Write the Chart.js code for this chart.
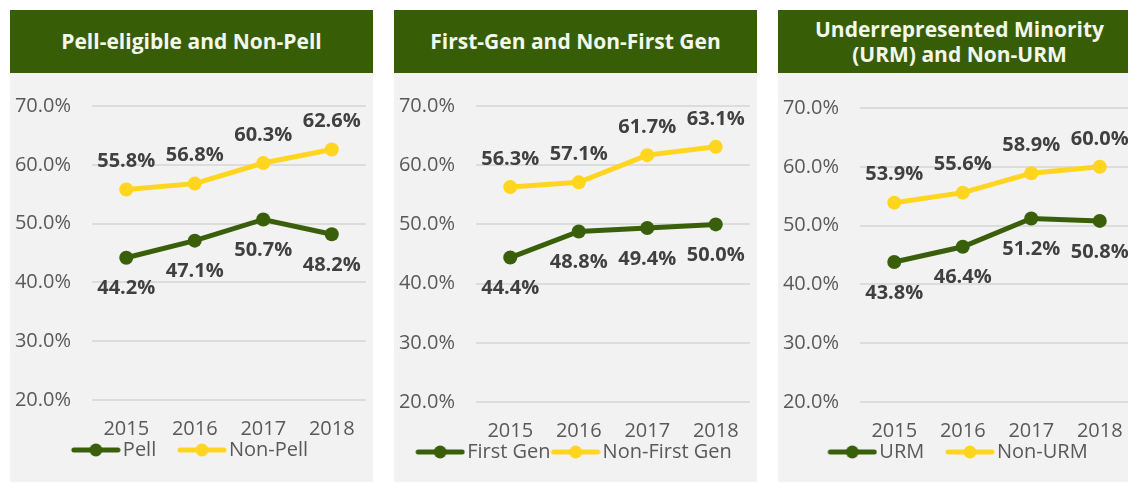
<!DOCTYPE html>
<html>
<head>
<meta charset="utf-8">
<script src="https://cdn.jsdelivr.net/npm/chart.js@4.4.1/dist/chart.umd.min.js"></script>
<style>
  body { margin: 0; width: 1128px; height: 483px; overflow: hidden; background: #fff; position: relative; }
  .panel { position: absolute; top: 10px; width: 363px; height: 472px; background: #f2f2f2; }
  .head { height: 63px; background: #385d07; color: #f3f7ec; font: bold 21px "Open Sans", sans-serif;
          display: flex; align-items: center; justify-content: center; text-align: center; line-height: 25px; }
  canvas { display: block; }
</style>
</head>
<body>
<div class="panel" style="left:10px"><div class="head">Pell-eligible and Non-Pell</div><canvas id="c1" width="363" height="409"></canvas></div>
<div class="panel" style="left:394px"><div class="head">First-Gen and Non-First Gen</div><canvas id="c2" width="363" height="409"></canvas></div>
<div class="panel" style="left:778px"><div class="head">Underrepresented Minority<br>(URM) and Non-URM</div><canvas id="c3" width="363" height="409"></canvas></div>
<script>
const years = ['2015', '2016', '2017', '2018'];

const pell = [44.2, 47.1, 50.7, 48.2];
const nonPell = [55.8, 56.8, 60.3, 62.6];
const firstGen = [44.4, 48.8, 49.4, 50.0];
const nonFirstGen = [56.3, 57.1, 61.7, 63.1];
const urm = [43.8, 46.4, 51.2, 50.8];
const nonUrm = [53.9, 55.6, 58.9, 60.0];

const yMin = 20;
const yMax = 70;
const yStep = 10;

const green = '#3a5f0b';
const yellow = '#ffd520';
const font = '"Open Sans", sans-serif';
const legendSize = 20;

// line-with-dot marker for the legend, visible part sits flush right so text follows closely
function legendMarker(color) {
  const c = document.createElement('canvas');
  c.width = 58;
  c.height = 16;
  const g = c.getContext('2d');
  g.strokeStyle = color;
  g.lineWidth = 5;
  g.lineCap = 'round';
  g.beginPath();
  g.moveTo(11, 8);
  g.lineTo(55, 8);
  g.stroke();
  g.fillStyle = color;
  g.beginPath();
  g.arc(33, 8, 6.5, 0, Math.PI * 2);
  g.fill();
  return c;
}
const markers = [legendMarker(green), legendMarker(yellow)];

// value labels: first series below the point, second above
const valueLabels = {
  id: 'valueLabels',
  afterDatasetsDraw(chart) {
    const ctx = chart.ctx;
    ctx.save();
    ctx.font = 'bold 20px ' + font;
    ctx.fillStyle = '#404040';
    ctx.textAlign = 'center';
    ctx.textBaseline = 'middle';
    chart.data.datasets.forEach((ds, i) => {
      const meta = chart.getDatasetMeta(i);
      const off = i === 0 ? 31 : -28;
      meta.data.forEach((pt, j) => {
        ctx.fillText(ds.data[j].toFixed(1) + '%', pt.x, pt.y + off);
      });
    });
    ctx.restore();
  }
};

function makeChart(id, names, low, high, gap, padTop, padBottom) {
  const ctx = document.getElementById(id).getContext('2d');
  return new Chart(ctx, {
    type: 'line',
    data: {
      labels: years,
      datasets: [
        { label: names[0], data: low, borderColor: green, backgroundColor: green, borderWidth: 5,
          pointRadius: 7, pointBorderWidth: 0, tension: 0 },
        { label: names[1], data: high, borderColor: yellow, backgroundColor: yellow, borderWidth: 5,
          pointRadius: 7, pointBorderWidth: 0, tension: 0 }
      ]
    },
    options: {
      responsive: false,
      animation: false,
      layout: { padding: { top: padTop, right: 4, bottom: padBottom, left: 0 } },
      plugins: {
        tooltip: { enabled: false },
        legend: {
          position: 'bottom',
          labels: {
            usePointStyle: true,
            pointStyleWidth: 42,
            padding: 0,
            color: '#595959',
            font: { family: font, size: legendSize },
            generateLabels(chart) {
              const items = Chart.defaults.plugins.legend.labels.generateLabels(chart);
              items.forEach((it, i) => {
                it.pointStyle = markers[i];
                if (i === 0) it.text += gap;
              });
              return items;
            }
          }
        }
      },
      scales: {
        x: {
          offset: true,
          grid: { display: false, drawTicks: false },
          border: { display: false },
          ticks: { color: '#595959', font: { family: font, size: 20 }, padding: 17, maxRotation: 0 },
          afterFit(scale) {
            scale.height = 40;
            scale.paddingLeft = 0;
            scale.paddingRight = 0;
          }
        },
        y: {
          min: yMin,
          max: yMax,
          grid: { color: '#dcdcdc', lineWidth: 2, drawTicks: false },
          border: { display: false },
          ticks: {
            stepSize: yStep,
            padding: 21,
            color: '#595959',
            font: { family: font, size: 20 },
            callback: v => v.toFixed(1) + '%'
          },
          afterFit(scale) { scale.width = 82; }
        }
      }
    },
    plugins: [valueLabels]
  });
}

makeChart('c1', ['Pell', 'Non-Pell'], pell, nonPell, '\u00a0\u00a0\u00a0\u00a0', 32, 12);
makeChart('c2', ['First Gen', 'Non-First Gen'], firstGen, nonFirstGen, '', 33, 10);
makeChart('c3', ['URM', 'Non-URM'], urm, nonUrm, '\u00a0\u00a0\u00a0\u00a0', 35, 10);
</script>
</body>
</html>
